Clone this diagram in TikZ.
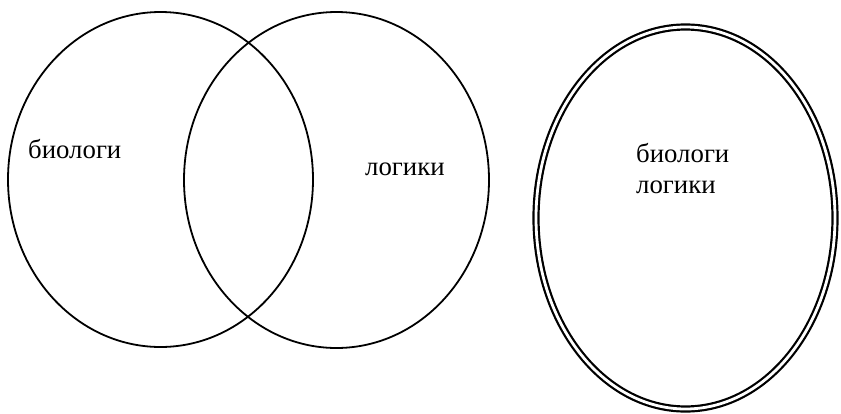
\documentclass[tikz,border=0pt]{standalone}
\usepackage{fontspec}
\setmainfont{Liberation Serif}
\begin{document}
\begin{tikzpicture}[x=1pt,y=-1pt,
  venn/.style={draw=black,line width=1.8pt},
  dbl/.style={draw=black,line width=2.2pt,double=white,double distance=2.8pt},
  lbl/.style={inner sep=0pt,anchor=base west,font=\fontsize{26.8}{31}\selectfont}]
\useasboundingbox (0,0) rectangle (841,413);
\fill[white] (0,0) rectangle (841,413);
% Venn pair
\draw[venn] (160.5,179.5) ellipse [x radius=152.5pt, y radius=167.5pt];
\draw[venn] (336.5,180) ellipse [x radius=152.5pt, y radius=168pt];
\node[lbl] (bio) at (28,158) {биологи};
\node[lbl] (log) at (365,175) {логики};
% coinciding classes
\draw[dbl] (685.5,218) ellipse [x radius=149.5pt, y radius=191pt];
\node[lbl] (bio2) at (636,162) {биологи};
\node[lbl] (log2) at (636,193) {логики};
\end{tikzpicture}
\end{document}
